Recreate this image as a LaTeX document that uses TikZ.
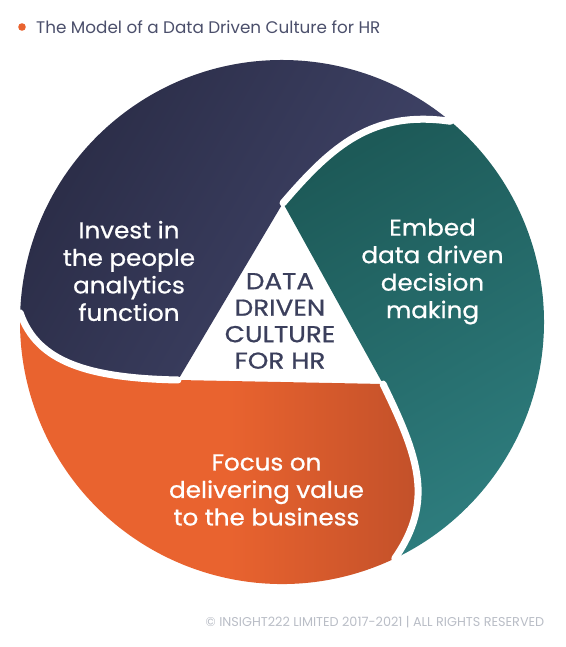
\documentclass[tikz,border=0pt]{standalone}
\usepackage{fontspec}
\setmainfont{Poppins}
\newfontfamily\segfont{Poppins}[FakeBold=0.8,FakeStretch=1.07]
\newfontfamily\midfont{Poppins}[FakeBold=0.8,FakeStretch=1.14]
\definecolor{navyA}{HTML}{2A2C46}
\definecolor{navyB}{HTML}{42466B}
\definecolor{tealA}{HTML}{1D5A58}
\definecolor{tealB}{HTML}{2E7D7E}
\definecolor{orA}{HTML}{E9632F}
\definecolor{orB}{HTML}{BF4F29}
\definecolor{ink}{HTML}{3B3F5C}
\definecolor{titleink}{HTML}{4B4F6B}
\definecolor{copyink}{HTML}{B9BDC6}
\definecolor{bullet}{HTML}{E9632F}
\begin{document}
\begin{tikzpicture}[x=1pt,y=1pt,
  gap/.style={draw=white,line width=7pt,line cap=round},
  segtext/.style={text=white,align=center,font=\segfont\fontsize{23}{27.5}\selectfont},
  midtext/.style={text=ink,align=center,font=\midfont\fontsize{23}{26.5}\selectfont}]
\useasboundingbox (-282,-325) rectangle (283,322);
% geometry
\coordinate (T1) at (1,119);
\coordinate (T2) at (-104,-58);
\coordinate (T3) at (101,-62);
\coordinate (A1) at (50,176);
\coordinate (A2) at (90,212);
\coordinate (AE) at (50:262);
\coordinate (B1) at (136,-134);
\coordinate (B2) at (153,-179);
\coordinate (BE) at (-64.5:262);
\coordinate (C1) at (-194,-56.2);
\coordinate (C2) at (-245,-40);
\coordinate (CE) at (178:262);
% navy segment
\shade[left color=navyA,right color=navyB,shading angle=60]
  (T1) -- (T2) .. controls (C1) and (C2) .. (CE)
  arc[start angle=178,end angle=50,radius=262]
  .. controls (A2) and (A1) .. (T1) -- cycle;
% teal segment
\shade[top color=tealA,bottom color=tealB,shading angle=30]
  (T1) .. controls (A1) and (A2) .. (AE)
  arc[start angle=50,end angle=-64.5,radius=262]
  .. controls (B2) and (B1) .. (T3) -- cycle;
% orange segment
\shade[left color=orA,right color=orB,middle color=orA]
  (T3) .. controls (B1) and (B2) .. (BE)
  arc[start angle=-64.5,end angle=-182,radius=262]
  .. controls (C2) and (C1) .. (T2) -- cycle;
% white gaps
\draw[gap] (T1) .. controls (A1) and (A2) .. (AE);
\draw[gap] (T3) .. controls (B1) and (B2) .. (BE);
\draw[gap] (T2) .. controls (C1) and (C2) .. (CE);
% texts
\node[segtext] (navytxt) at (-153,51) {Invest in\\the people\\analytics\\function};
\node[segtext] (tealtxt) at (150.5,50.5) {Embed\\data driven\\decision\\making};
\node[segtext] (ortxt) at (-15.5,-168) {Focus on\\delivering value\\to the business};
\node[midtext] (midtxt) at (-2,1) {DATA\\DRIVEN\\CULTURE\\FOR HR};
% title
\fill[bullet] (-260,295) circle[radius=3.8];
\node[anchor=west,text=titleink,font=\fontsize{16.8}{20}\selectfont,inner sep=0pt] (title) at (-246,295) {The Model of a Data Driven Culture for HR};
% copyright
\node[text=copyink,font=\fontsize{12.8}{15}\selectfont,inner sep=0pt] (copy) at (93,-300) {© INSIGHT222 LIMITED 2017-2021 | ALL RIGHTS RESERVED};
\end{tikzpicture}
\end{document}
